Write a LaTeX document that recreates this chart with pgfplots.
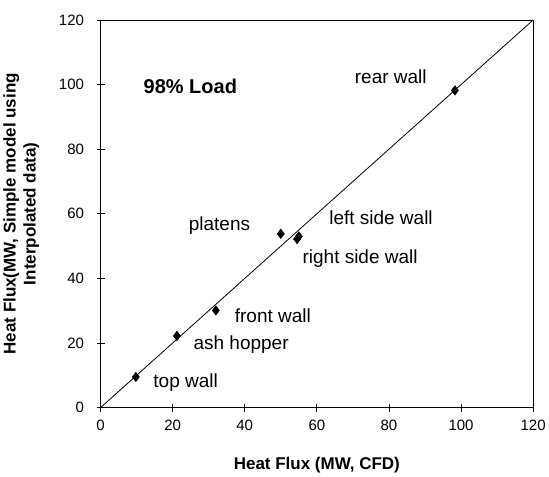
\documentclass[border=0pt]{standalone}
\usepackage{fontspec}
\setmainfont{Liberation Sans}
\usepackage{pgfplots}
\pgfplotsset{compat=1.18}

\begin{document}
\begin{tikzpicture}
\begin{axis}[
    scale only axis,
    width=433pt, height=388pt,
    xmin=0, xmax=120, ymin=0, ymax=120,
    xtick={0,20,...,120}, ytick={0,20,...,120},
    tickpos=left, tick align=center,
    major tick length=8pt,
    /pgf/number format/assume math mode=true,
    tick label style={font=\fontsize{15}{17}\selectfont},
    xticklabel style={yshift=-5pt},
    yticklabel style={xshift=-9pt},
    xlabel={\bfseries Heat Flux (MW, CFD)},
    ylabel={\bfseries Heat Flux(MW, Simple model using\\ \bfseries Interpolated data)},
    label style={font=\fontsize{17}{20}\selectfont},
    ylabel style={align=center, yshift=13pt},
    xlabel style={yshift=-20pt},
    axis line style={line width=0.9pt},
    every tick/.style={black, line width=0.8pt},
    clip=false,
]
\addplot[black, line width=0.8pt] coordinates {(0,0) (120,120)};
\addplot[only marks, mark=diamond*, mark size=4.8pt, black] coordinates {
    (9.8,9.5) (21.2,22.2) (32,30.1) (50,53.8) (55,53.0) (54.5,52.2) (98.3,98.2)
};
\node[font=\fontsize{20}{24}\selectfont\bfseries, anchor=west] at (axis cs:11,99.3) {98\% Load};
\begin{scope}[every node/.style={font=\fontsize{19}{22}\selectfont}]
\node at (axis cs:80.5,102.4) {rear wall};
\node at (axis cs:33,56.3) {platens};
\node at (axis cs:77.8,58.8) {left side wall};
\node at (axis cs:72,46) {right side wall};
\node at (axis cs:47.8,28.5) {front wall};
\node at (axis cs:39,19.5) {ash hopper};
\node at (axis cs:23.6,7.7) {top wall};
\end{scope}
\path (rel axis cs:1,1) ++(0,20pt);
\end{axis}
\end{tikzpicture}
\end{document}
